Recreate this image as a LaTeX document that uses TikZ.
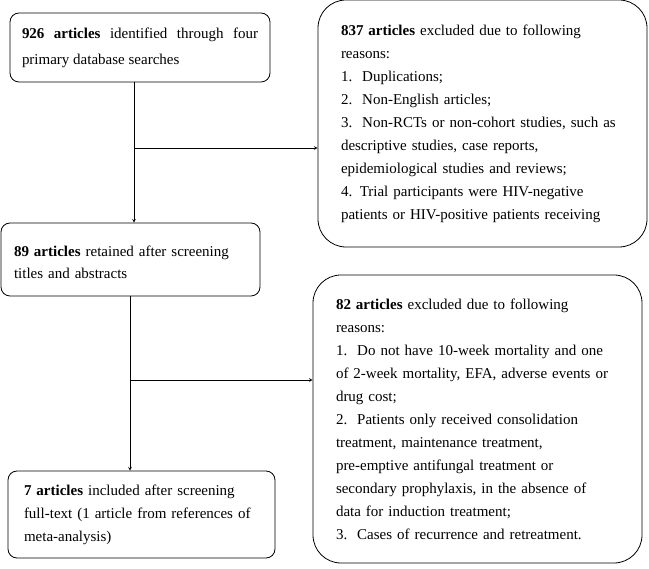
\documentclass[tikz,border=0pt]{standalone}
\usepackage{fontspec}
\setmainfont{Liberation Serif}
\usetikzlibrary{shapes.geometric, arrows, calc}
\tikzstyle{record} = [rectangle, draw=black, line width=0.8pt, rounded corners=9pt, font=\fontsize{15}{23}\selectfont]
\tikzstyle{reason} = [record, rounded corners=28pt, align=left, text width=283pt]

\begin{document}
\begin{tikzpicture}[x=1pt, y=-1pt, >=stealth]
		\useasboundingbox (0,0) rectangle (649,569);

		\node (search) [record, font=\fontsize{15}{26}\selectfont, align=justify, text width=236pt, inner xsep=12pt, minimum height=69pt] at (140,47.5) {\textbf{926 articles} identified through four\linebreak primary database searches};
		\node (excluded1) [reason, inner xsep=23pt, minimum height=247pt] at (482.5,123.5) {\textbf{837 articles} excluded due to following\\
			reasons:\\
			1.~~Duplications;\\
			2.~~Non-English articles;\\
			3.~~Non-RCTs or non-cohort studies, such as\\
			descriptive studies, case reports,\\
			epidemiological studies and reviews;\\
			4. Trial participants were HIV-negative\\
			patients or HIV-positive patients receiving};
		\node (retained) [record, font=\fontsize{15}{22}\selectfont, align=left, text width=233pt, inner xsep=13pt, minimum height=73pt, text depth=16pt] at (130.5,259.5) {\textbf{89 articles} retained after screening\\ titles and abstracts};
		\node (excluded2) [reason, inner xsep=23pt, minimum height=288pt] at (477.5,419) {\textbf{82 articles} excluded due to following\\
			reasons:\\
			1.~~Do not have 10-week mortality and one\\
			of 2-week mortality, EFA, adverse events or\\
			drug cost;\\
			2.~~Patients only received consolidation\\
			treatment, maintenance treatment,\\
			pre-emptive antifungal treatment or\\
			secondary prophylaxis, in the absence of\\
			data for induction treatment;\\
			3.~~Cases of recurrence and retreatment.};
		\node (included) [record, align=left, text width=235pt, inner xsep=16pt, minimum height=87pt] at (141.5,514.5) {\textbf{7 articles} included after screening\\ full-text (1 article from references of\\ meta-analysis)};

		\coordinate (fork1) at (134,148);
		\coordinate (fork2) at (130,380);

		\draw[->, line width=0.6pt] (search.south -| fork1) -- (retained.north -| fork1);
		\draw[->, line width=0.6pt] (fork1) -- (fork1 -| excluded1.west);
		\draw[->, line width=0.6pt] (retained.south -| fork2) -- (included.north -| fork2);
		\draw[->, line width=0.6pt] (fork2) -- (fork2 -| excluded2.west);
	\end{tikzpicture}
\end{document}
